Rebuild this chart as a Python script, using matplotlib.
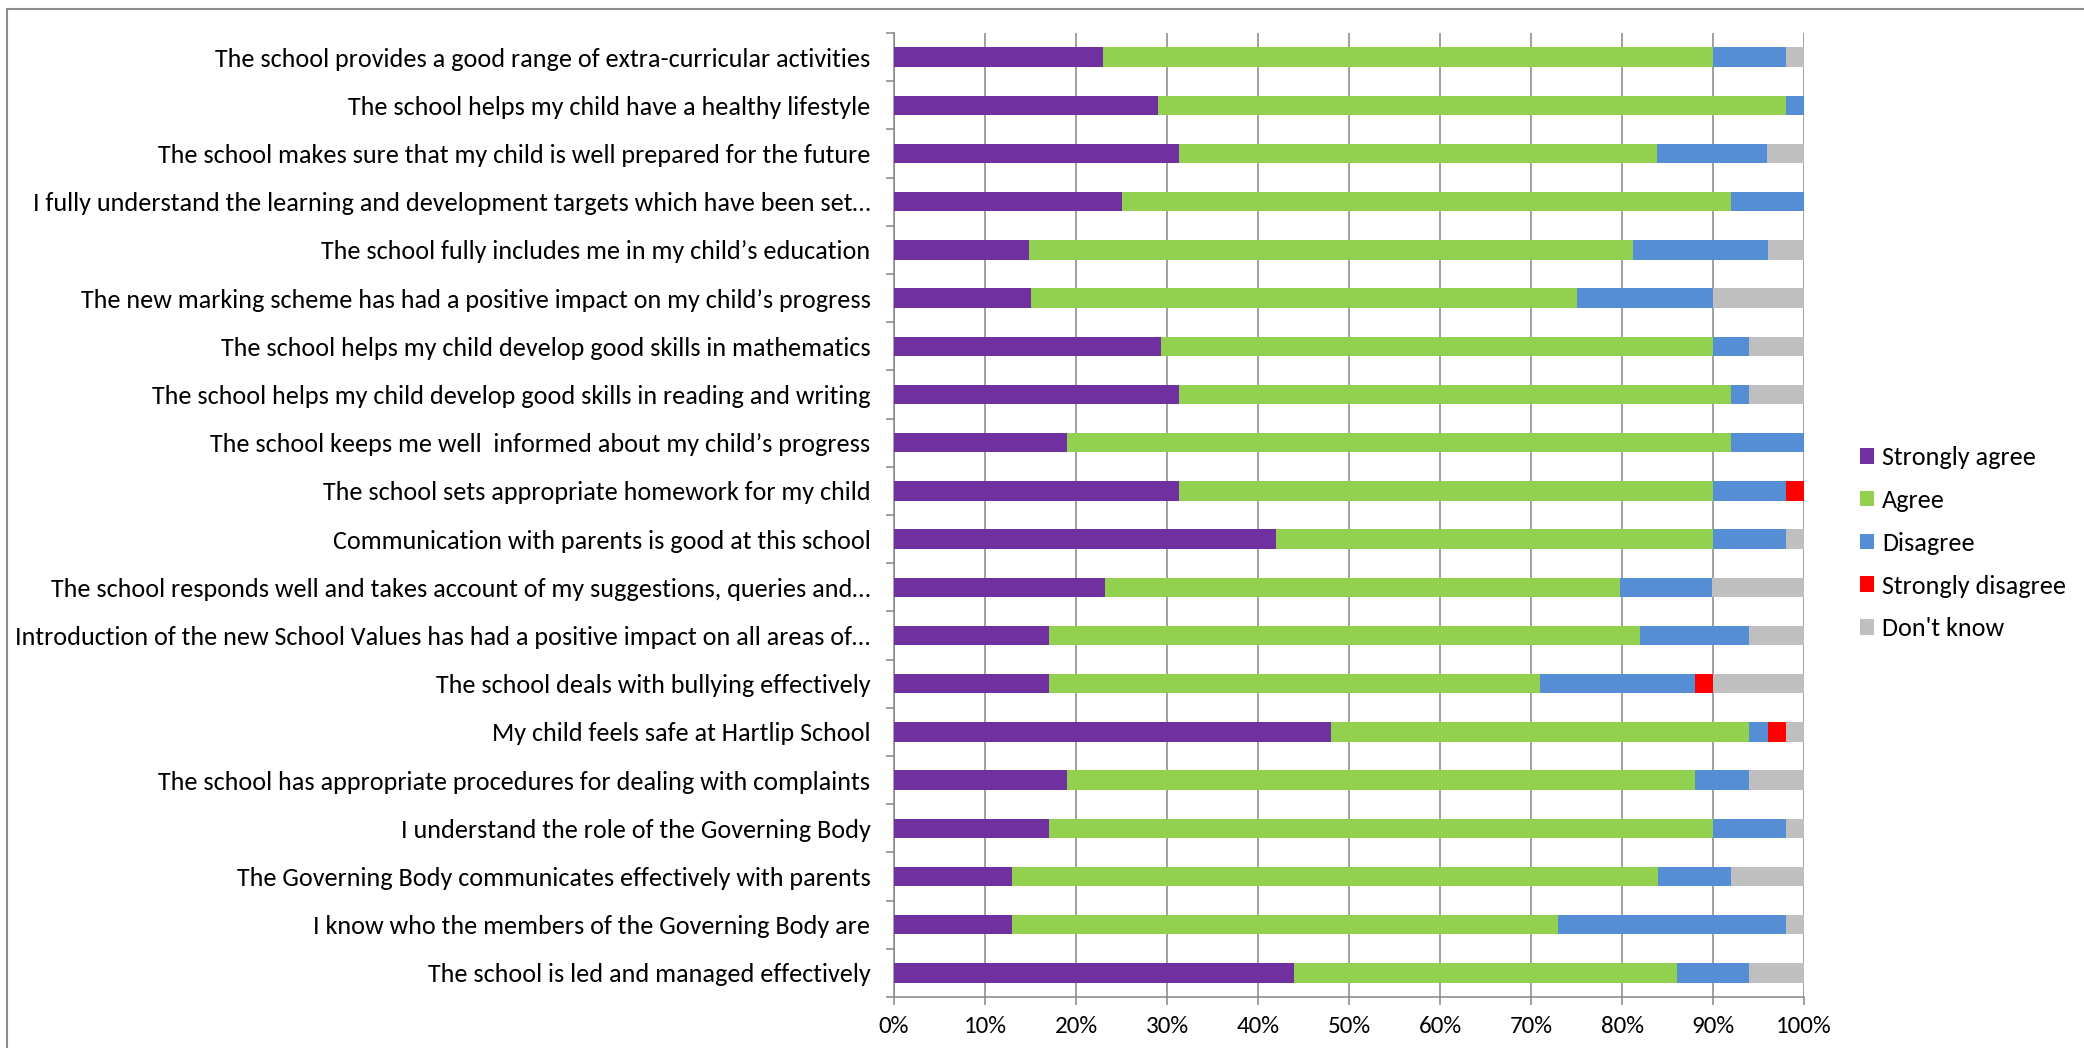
import matplotlib
matplotlib.use("Agg")
import matplotlib.pyplot as plt
from matplotlib import font_manager
from matplotlib.patches import Patch
import numpy as np

categories = [
    "The school provides a good range of extra-curricular activities",
    "The school helps my child have a healthy lifestyle",
    "The school makes sure that my child is well prepared for the future",
    "I fully understand the learning and development targets which have been set…",
    "The school fully includes me in my child’s education",
    "The new marking scheme has had a positive impact on my child’s progress",
    "The school helps my child develop good skills in mathematics",
    "The school helps my child develop good skills in reading and writing",
    "The school keeps me well  informed about my child’s progress",
    "The school sets appropriate homework for my child",
    "Communication with parents is good at this school",
    "The school responds well and takes account of my suggestions, queries and…",
    "Introduction of the new School Values has had a positive impact on all areas of…",
    "The school deals with bullying effectively",
    "My child feels safe at Hartlip School",
    "The school has appropriate procedures for dealing with complaints",
    "I understand the role of the Governing Body",
    "The Governing Body communicates effectively with parents",
    "I know who the members of the Governing Body are",
    "The school is led and managed effectively",
]

strongly_agree = [23.0, 29.0, 31.3, 25.0, 14.8, 15.0, 29.3, 31.3, 19.0, 31.3,
                  42.0, 23.2, 17.0, 17.0, 48.0, 19.0, 17.0, 13.0, 13.0, 44.0]
agree = [67.0, 69.0, 52.6, 67.0, 66.4, 60.0, 60.7, 60.7, 73.0, 58.7,
         48.0, 56.6, 65.0, 54.0, 46.0, 69.0, 73.0, 71.0, 60.0, 42.0]
disagree = [8.0, 2.0, 12.0, 8.0, 14.8, 15.0, 4.0, 2.0, 8.0, 8.0,
            8.0, 10.1, 12.0, 17.0, 2.0, 6.0, 8.0, 8.0, 25.0, 8.0]
strongly_disagree = [0, 0, 0, 0, 0, 0, 0, 0, 0, 2.0,
                     0, 0, 0, 2.0, 2.0, 0, 0, 0, 0, 0]
dont_know = [2.0, 0, 4.1, 0, 4.0, 10.0, 6.0, 6.0, 0, 0,
             2.0, 10.1, 6.0, 10.0, 2.0, 6.0, 2.0, 8.0, 2.0, 6.0]

series_names = ["Strongly agree", "Agree", "Disagree", "Strongly disagree", "Don't know"]
series_values = [strongly_agree, agree, disagree, strongly_disagree, dont_know]
series_colors = ["#7030A0", "#92D050", "#558ED5", "#FF0000", "#BFBFBF"]
x_ticks = [0, 10, 20, 30, 40, 50, 60, 70, 80, 90, 100]
x_tick_labels = [f"{v}%" for v in x_ticks]

available = {f.name for f in font_manager.fontManager.ttflist}
family = "DejaVu Sans"
for cand in ["Carlito", "Liberation Sans Narrow", "Open Sans", "DejaVu Sans"]:
    if cand in available:
        family = cand
        break
plt.rcParams["font.family"] = [family, "DejaVu Sans"]
FS = 18.8
FS_X = 18

W, H = 2084, 1048
fig = plt.figure(figsize=(W / 100, H / 100), dpi=100)
ax = fig.add_axes([894 / W, 1 - 997 / H, (1804 - 894) / W, (997 - 33) / H])

# outer chart border (right/bottom edges lie outside the image)
fig.add_artist(plt.Rectangle((6.5 / W, -0.1), 1.2, 1 - 9.5 / H + 0.1,
                             transform=fig.transFigure, fill=False,
                             edgecolor="#8C8C8C", linewidth=1.5))

y = np.arange(len(categories))
left = np.zeros(len(categories))
for name, vals, col in zip(series_names, series_values, series_colors):
    vals = np.array(vals, dtype=float)
    ax.barh(y, vals, left=left, height=0.4, color=col, label=name,
            edgecolor="none", zorder=3)
    left += vals

ax.set_xlim(0, 100)
ax.set_ylim(len(categories) - 0.5, -0.5)
ax.set_xticks(x_ticks)
ax.set_xticklabels(x_tick_labels, fontsize=FS_X)
ax.set_yticks(y)
ax.set_yticklabels(categories, fontsize=FS)
ax.set_yticks(np.arange(len(categories) + 1) - 0.5, minor=True)
ax.tick_params(axis="y", which="major", length=0, pad=17)
ax.tick_params(axis="y", which="minor", length=6, width=1.1, color="#868686", direction="out")
ax.tick_params(axis="x", which="major", length=6, width=1.1, color="#868686", direction="out", pad=8)
ax.xaxis.grid(True, color="#868686", linewidth=1.1, zorder=0)
ax.set_axisbelow(True)
for s in ["top", "right"]:
    ax.spines[s].set_visible(False)
for s in ["left", "bottom"]:
    ax.spines[s].set_color("#868686")
    ax.spines[s].set_linewidth(1.1)

handles = [Patch(facecolor=c, edgecolor="none", label=n) for n, c in zip(series_names, series_colors)]
fig.legend(handles=handles, loc="upper left", bbox_to_anchor=(1860 / W, 1 - 446 / H),
           frameon=False, fontsize=FS, handlelength=0.55, handleheight=0.55,
           handletextpad=0.3, labelspacing=0.76, borderaxespad=0, borderpad=0)

fig.savefig("out.png", dpi=100)
